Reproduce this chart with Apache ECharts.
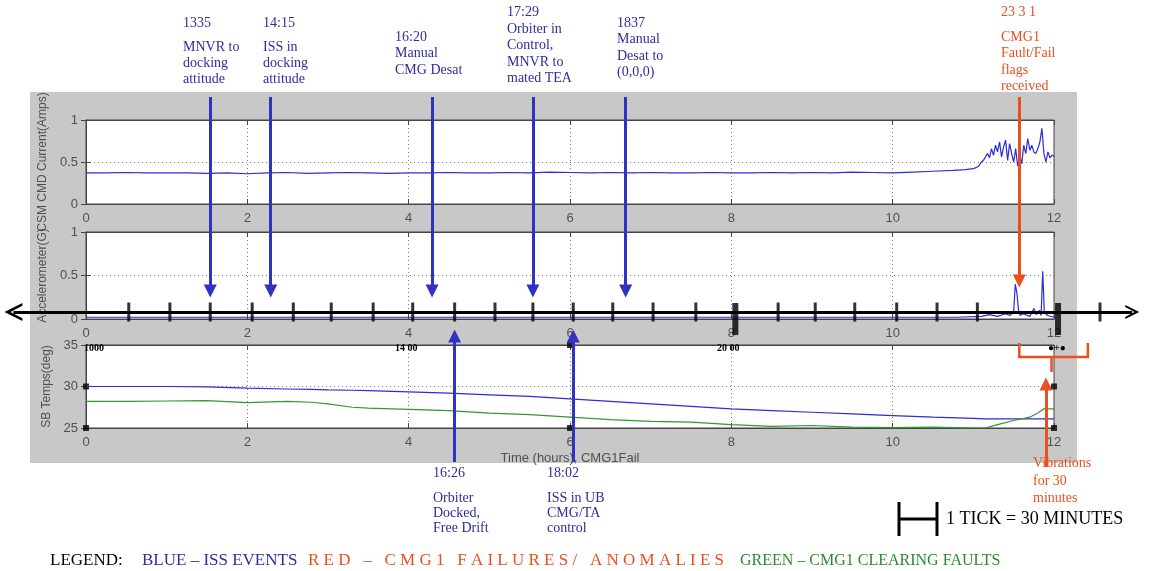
<!DOCTYPE html>
<html>
<head>
<meta charset="utf-8">
<title>CMG1 Fail</title>
<script src="https://cdn.jsdelivr.net/npm/echarts@6/dist/echarts.min.js"></script>
<style>
  html, body { margin: 0; padding: 0; background: #fff; }
  #chart { width: 1150px; height: 571px; }
</style>
</head>
<body>
<div id="chart"></div>
<script>
// ---- data (hours from the start of the plot) ----
var curT = [0, 0.25, 0.5, 0.75, 1, 1.25, 1.5, 1.75, 2, 2.25, 2.5, 2.75, 3, 3.25, 3.5, 3.75, 4, 4.25, 4.5, 4.75, 5, 5.25, 5.5, 5.75, 6, 6.25, 6.5, 6.75, 7, 7.25, 7.5, 7.75, 8, 8.25, 8.5, 8.75, 9, 9.25, 9.5, 9.75, 10, 10.25, 10.5, 10.75, 10.9,
  11, 11.025, 11.05, 11.075, 11.1, 11.125, 11.15, 11.175, 11.2, 11.225, 11.25, 11.275, 11.3, 11.325, 11.35, 11.375, 11.4, 11.425, 11.45, 11.475, 11.5, 11.525, 11.55, 11.575, 11.6, 11.625, 11.65, 11.675, 11.7, 11.725, 11.75, 11.775, 11.8, 11.825, 11.85, 11.875, 11.9, 11.925, 11.95, 11.975, 12]
var curV = [0.37, 0.37, 0.375, 0.37, 0.37, 0.37, 0.365, 0.37, 0.36, 0.37, 0.375, 0.365, 0.37, 0.375, 0.37, 0.365, 0.37, 0.37, 0.375, 0.37, 0.37, 0.375, 0.37, 0.38, 0.375, 0.37, 0.375, 0.37, 0.375, 0.37, 0.37, 0.375, 0.37, 0.37, 0.375, 0.37, 0.375, 0.37, 0.38, 0.375, 0.37, 0.38, 0.39, 0.40, 0.41,
  0.42, 0.43, 0.44, 0.46, 0.50, 0.52, 0.56, 0.60, 0.55, 0.66, 0.58, 0.70, 0.62, 0.74, 0.56, 0.68, 0.76, 0.52, 0.72, 0.60, 0.50, 0.66, 0.45, 0.58, 0.48, 0.70, 0.60, 0.78, 0.64, 0.70, 0.62, 0.60, 0.66, 0.74, 0.90, 0.60, 0.50, 0.62, 0.55, 0.58, 0.57]

var accT = [0, 1, 2, 3, 4, 5, 6, 7, 8, 9, 10, 10.8, 11.1, 11.2, 11.3, 11.4, 11.45, 11.5, 11.52, 11.54, 11.56, 11.58, 11.62, 11.7, 11.75, 11.78, 11.82, 11.84, 11.86, 11.88, 11.92, 12]
var accV = [0.02, 0.02, 0.02, 0.02, 0.02, 0.02, 0.02, 0.02, 0.02, 0.02, 0.02, 0.02, 0.03, 0.05, 0.03, 0.06, 0.04, 0.08, 0.40, 0.30, 0.10, 0.04, 0.06, 0.03, 0.12, 0.05, 0.10, 0.04, 0.55, 0.08, 0.04, 0.02]

var tempT = [0, 0.5, 1, 1.5, 2, 2.5, 2.8, 3, 3.3, 3.5, 4, 4.5, 5, 5.5, 6, 6.5, 7, 7.5, 8, 8.5, 9, 9.5, 10, 10.5, 11, 11.15, 11.3, 11.5, 11.7, 11.8, 11.87, 12]
var tempBlue = [30.0, 30.0, 30.0, 29.95, 29.8, 29.7, 29.65, 29.6, 29.55, 29.5, 29.35, 29.2, 29.0, 28.8, 28.5, 28.2, 27.9, 27.6, 27.3, 27.1, 26.9, 26.7, 26.5, 26.3, 26.15, 26.1, 26.1, 26.1, 26.1, 26.1, 26.1, 26.1]
var tempGreen = [28.2, 28.2, 28.25, 28.3, 28.05, 28.2, 28.1, 27.9, 27.5, 27.4, 27.25, 27.1, 26.8, 26.6, 26.3, 26.0, 25.8, 25.7, 25.4, 25.2, 25.3, 25.1, 25.05, 25.1, 25.0, 25.0, 25.4, 25.9, 26.3, 26.8, 27.3, 27.3]

// events (hours), where the arrows point on the time axis
var downEventT = [1.54, 2.29, 4.29, 5.54, 6.69]
var failEventT = [11.57]
var upEventT = [4.57, 6.04]
var vibrationT = [11.9]
var bracketT = [11.57, 11.97, 12.42]

// timeline ticks, 1 tick = 30 minutes
var tickT = [0.53, 1.04, 1.54, 2.06, 2.57, 3.04, 3.56, 4.05, 4.57, 5.07, 5.54, 6.04, 6.53, 7.03, 7.56, 8.58, 9.04, 9.53, 10.05, 10.55, 11.05, 12.57]
var majorTickT = [8.05, 12.05]

// black markers on the temperature panel
var markT = [0, 0, 6, 6, 12, 12]
var markV = [30, 25, 35, 25, 30, 25]

// ---- styles ----
var SANS = '"Liberation Sans", Arial, sans-serif'
var SERIF = '"Liberation Serif", "Times New Roman", serif'
var AX = '#454545'
var LINE_BLUE = '#2c2cdc'
var LINE_GREEN = '#2f9a2f'
var ARROW_BLUE = '#3232c2'
var TEXT_BLUE = '#2d2d9e'
var RED = '#e8501e'
var GREEN_TXT = '#2c8a2c'

function zip(a, b) {
  return a.map(function (v, i) { return [v, b[i]] })
}

// the scanned legend is set very loosely, space the letters out a bit
function spread(s, gap) {
  return s.split('').join(gap)
}

var grids = [
  { left: 86, width: 968, top: 120, height: 84 },
  { left: 86, width: 968, top: 232, height: 87 },
  { left: 86, width: 968, top: 345, height: 83 }
]

var xAxes = [], yAxes = []
grids.forEach(function (g, i) {
  g.show = true
  g.backgroundColor = '#fff'
  g.borderColor = AX
  g.borderWidth = 1
  xAxes.push({
    type: 'value', gridIndex: i, min: 0, max: 12, interval: 2, position: 'bottom',
    axisLine: { onZero: false, lineStyle: { color: AX } },
    axisTick: { inside: true, length: 5, lineStyle: { color: AX } },
    axisLabel: { color: '#505050', fontSize: 13, fontFamily: SANS, margin: 8 },
    splitLine: { show: true, lineStyle: { color: '#7a7a7a', type: [1, 3] } },
    name: i === 2 ? 'Time (hours), CMG1Fail' : '',
    nameLocation: 'middle', nameGap: 24,
    nameTextStyle: { color: '#505050', fontSize: 13, fontFamily: SANS }
  })
  xAxes.push({
    type: 'value', gridIndex: i, min: 0, max: 12, interval: 2, position: 'top',
    axisLine: { onZero: false, lineStyle: { color: AX } },
    axisTick: { inside: true, length: 5, lineStyle: { color: AX } },
    axisLabel: { show: false }, splitLine: { show: false }
  })
  var temp = i === 2
  var yName = ['CSM CMD Current(Amps)', 'Accelerometer(G)', 'SB Temps(deg)'][i]
  yAxes.push({
    type: 'value', gridIndex: i, position: 'left',
    min: temp ? 25 : 0, max: temp ? 35 : 1, interval: temp ? 5 : 0.5,
    axisLine: { show: true, lineStyle: { color: AX } },
    axisTick: { show: true, inside: true, length: 5, lineStyle: { color: AX } },
    axisLabel: { color: '#505050', fontSize: 13, fontFamily: SANS, margin: 8 },
    splitLine: { show: true, lineStyle: { color: '#7a7a7a', type: [1, 3] } },
    name: yName, nameLocation: 'middle', nameGap: 30,
    nameTextStyle: { color: '#505050', fontSize: 12, fontFamily: SANS }
  })
  yAxes.push({
    type: 'value', gridIndex: i, position: 'right',
    min: temp ? 25 : 0, max: temp ? 35 : 1, interval: temp ? 5 : 0.5,
    axisLine: { show: true, lineStyle: { color: AX } },
    axisTick: { show: true, inside: true, length: 5, lineStyle: { color: AX } },
    axisLabel: { show: false }, splitLine: { show: false }
  })
})

// overlay: same hour scale, y in page pixels, for the annotation arrows
grids.push({ left: 86, width: 968, top: 0, height: 571, show: false })
xAxes.push({ type: 'value', gridIndex: 3, min: 0, max: 12, show: false })
yAxes.push({ type: 'value', gridIndex: 3, min: 0, max: 571, inverse: true, show: false })
var OV = 6

function dataLine(xi, yi, data, color) {
  return {
    type: 'line', xAxisIndex: xi, yAxisIndex: yi, data: data,
    showSymbol: false, symbol: 'none', silent: true,
    lineStyle: { color: color, width: 1.2 }
  }
}

function arrows(ts, y0, y1, color) {
  return {
    type: 'lines', coordinateSystem: 'cartesian2d', xAxisIndex: OV, yAxisIndex: OV,
    clip: false, silent: true, z: 10,
    symbol: ['none', 'triangle'], symbolSize: [12, 13],
    lineStyle: { color: color, width: 3, opacity: 1, curveness: 0 },
    data: ts.map(function (t) { return { coords: [[t, y0], [t, y1]] } })
  }
}

var chevron = 'path://M0,12 L10,0 L20,12 L17,12 L10,4 L3,12 Z'

var series = [
  dataLine(0, 0, zip(curT, curV), LINE_BLUE),
  dataLine(2, 2, zip(accT, accV), LINE_BLUE),
  dataLine(4, 4, zip(tempT, tempBlue), LINE_BLUE),
  dataLine(4, 4, zip(tempT, tempGreen), LINE_GREEN),
  {
    type: 'scatter', xAxisIndex: 4, yAxisIndex: 4, clip: false, silent: true,
    symbol: 'rect', symbolSize: 6, itemStyle: { color: '#000' },
    data: zip(markT, markV)
  },
  // timeline
  {
    type: 'lines', coordinateSystem: 'cartesian2d', xAxisIndex: OV, yAxisIndex: OV,
    clip: false, silent: true, z: 8,
    symbol: [chevron, chevron], symbolSize: [18, 14],
    lineStyle: { color: '#000', width: 3, opacity: 1 },
    data: [{ coords: [[-0.9, 312], [12.97, 312]] }]
  },
  {
    type: 'scatter', xAxisIndex: OV, yAxisIndex: OV, clip: false, silent: true, z: 8,
    symbol: 'rect', symbolSize: [3, 19], itemStyle: { color: '#000' },
    data: tickT.map(function (t) { return [t, 312] })
  },
  {
    type: 'scatter', xAxisIndex: OV, yAxisIndex: OV, clip: false, silent: true, z: 8,
    symbol: 'rect', symbolSize: [6, 32], itemStyle: { color: '#000' },
    data: majorTickT.map(function (t) { return [t, 319] })
  },
  arrows(downEventT, 97, 291, ARROW_BLUE),
  arrows(failEventT, 97, 281, RED),
  arrows(upEventT, 462, 336, ARROW_BLUE),
  arrows(vibrationT, 467, 384, RED),
  {
    type: 'lines', coordinateSystem: 'cartesian2d', xAxisIndex: OV, yAxisIndex: OV,
    clip: false, silent: true, z: 10, polyline: true,
    lineStyle: { color: RED, width: 2.5, opacity: 1 },
    data: [
      { coords: [[bracketT[0], 343], [bracketT[0], 357], [bracketT[2], 357], [bracketT[2], 343]] },
      { coords: [[bracketT[1], 357], [bracketT[1], 372]] }
    ]
  }
]

function txt(x, y, text, color, size, lh, weight) {
  return {
    type: 'text', left: x, top: y, z: 20, silent: true,
    style: {
      text: text, fill: color,
      font: (weight ? weight + ' ' : '') + (size || 14) + 'px ' + SERIF,
      lineHeight: lh || 16
    }
  }
}

var graphics = [
  { type: 'rect', left: 30, top: 92, z: -10, silent: true, shape: { width: 1047, height: 371 }, style: { fill: '#c8c8c8' } },
  // event labels above
  txt(183, 15, '1335', TEXT_BLUE), txt(183, 39, 'MNVR to\ndocking\nattitude', TEXT_BLUE),
  txt(263, 15, '14:15', TEXT_BLUE), txt(263, 39, 'ISS in\ndocking\nattitude', TEXT_BLUE),
  txt(395, 29, '16:20', TEXT_BLUE), txt(395, 45, 'Manual\nCMG Desat', TEXT_BLUE, 14, 17),
  txt(507, 4, '17:29', TEXT_BLUE), txt(507, 21, 'Orbiter in\nControl,\nMNVR to\nmated TEA', TEXT_BLUE, 14, 16.5),
  txt(617, 15, '1837\nManual\nDesat to\n(0,0,0)', TEXT_BLUE, 14, 16.5),
  txt(1001, 4, '23 3 1', RED), txt(1001, 29, 'CMG1\nFault/Fail\nflags\nreceived', RED, 14, 16.5),
  // event labels below
  txt(433, 465, '16:26', TEXT_BLUE), txt(433, 491, 'Orbiter\nDocked,\nFree Drift', TEXT_BLUE, 14, 15),
  txt(547, 465, '18:02', TEXT_BLUE), txt(547, 491, 'ISS in UB\nCMG/TA\ncontrol', TEXT_BLUE, 14, 15),
  txt(1033, 455, 'Vibrations\nfor 30\nminutes', RED, 14, 17.5),
  // clock labels on the temperature panel
  txt(84, 342, '1000', '#000', 10, 12, 'bold'),
  txt(395, 342, '14 00', '#000', 10, 12, 'bold'),
  txt(717, 342, '20 00', '#000', 10, 12, 'bold'),
  txt(1048, 342, '\u25CF+\u25CF', '#000', 10, 12, 'bold'),
  // scale bar
  { type: 'line', z: 20, silent: true, shape: { x1: 899, y1: 502, x2: 899, y2: 536 }, style: { stroke: '#000', lineWidth: 3 } },
  { type: 'line', z: 20, silent: true, shape: { x1: 937, y1: 502, x2: 937, y2: 536 }, style: { stroke: '#000', lineWidth: 3 } },
  { type: 'line', z: 20, silent: true, shape: { x1: 899, y1: 519, x2: 937, y2: 519 }, style: { stroke: '#000', lineWidth: 3 } },
  txt(946, 509, '1 TICK = 30 MINUTES', '#000', 18, 20),
  // legend line
  txt(50, 552, 'LEGEND:', '#000', 17, 18),
  txt(142, 552, 'BLUE \u2013 ISS EVENTS', TEXT_BLUE, 17, 18),
  txt(308, 552, spread('RED \u2013 CMG1 FAILURES/ ANOMALIES', '\u2005'), RED, 17, 18),
  txt(740, 552, 'GREEN \u2013 CMG1 CLEARING FAULTS', GREEN_TXT, 16, 18)
]

var chart = echarts.init(document.getElementById('chart'))
chart.setOption({
  animation: false,
  backgroundColor: '#fff',
  grid: grids,
  xAxis: xAxes,
  yAxis: yAxes,
  series: series,
  graphic: graphics
})
</script>
</body>
</html>
